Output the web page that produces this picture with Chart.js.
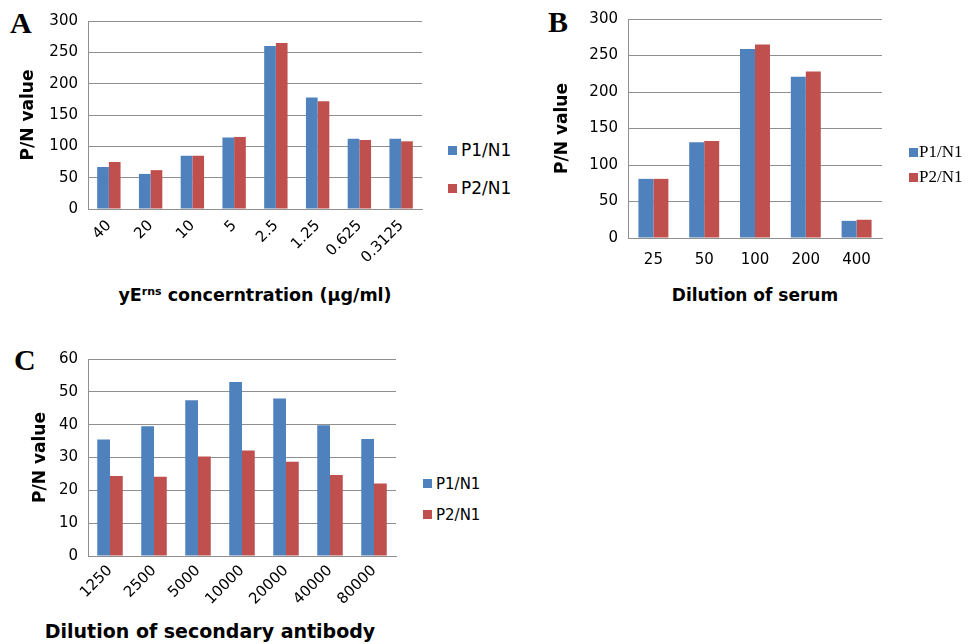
<!DOCTYPE html>
<html>
<head>
<meta charset="utf-8">
<script src="https://cdn.jsdelivr.net/npm/chart.js@4.4.0/dist/chart.umd.min.js"></script>
<style>
  body { margin: 0; background: #fff; width: 968px; height: 644px; position: relative; overflow: hidden; font-family: "DejaVu Sans", sans-serif; color: #000; }
  canvas { position: absolute; }
  .letra { position: absolute; font-family: "Liberation Serif", serif; font-weight: bold; font-size: 30px; line-height: 30px; }
  .xtitulo { position: absolute; font-weight: bold; font-size: 18px; transform: translate(-50%, -50%); white-space: nowrap; }
  .xtitulo sup { font-size: 11px; }
  .leg { position: absolute; white-space: nowrap; transform: translateY(-50%); }
  .leg span { display: inline-block; width: 9px; height: 9px; margin-right: 4px; vertical-align: middle; position: relative; top: -1px; }
</style>
</head>
<body>

<div class="letra" style="left:10px; top:8px;">A</div>
<div class="letra" style="left:548px; top:7px;">B</div>
<div class="letra" style="left:14px; top:345px;">C</div>

<canvas id="graficoA" width="432" height="270" style="left:0px; top:0px;"></canvas>
<canvas id="graficoB" width="428" height="280" style="left:540px; top:0px;"></canvas>
<canvas id="graficoC" width="406" height="270" style="left:0px; top:340px;"></canvas>

<div class="xtitulo" style="left:255px; top:295px; font-size:17.5px;">yE<sup>rns</sup> concerntration (µg/ml)</div>
<div class="xtitulo" style="left:755px; top:295px; font-size:17px;">Dilution of serum</div>
<div class="xtitulo" style="left:210px; top:631px; font-size:19px;">Dilution of secondary antibody</div>

<!-- Legendas -->
<div class="leg" style="left:448px; top:150px; font-size:17px;"><span style="background:#4F81BD"></span>P1/N1</div>
<div class="leg" style="left:448px; top:188px; font-size:17px;"><span style="background:#C0504D"></span>P2/N1</div>
<div class="leg" style="left:909px; top:152px; font-size:17px; font-family:'Liberation Serif', serif;"><span style="background:#4F81BD; margin-right:1px"></span>P1/N1</div>
<div class="leg" style="left:909px; top:177px; font-size:17px; font-family:'Liberation Serif', serif;"><span style="background:#C0504D; margin-right:1px"></span>P2/N1</div>
<div class="leg" style="left:423px; top:484px; font-size:15px;"><span style="background:#4F81BD"></span>P1/N1</div>
<div class="leg" style="left:423px; top:515px; font-size:15px;"><span style="background:#C0504D"></span>P2/N1</div>

<script>
// Dados - Painel A (concentração de yErns)
var labelsA = ["40", "20", "10", "5", "2.5", "1.25", "0.625", "0.3125"];
var p1A = [67, 56, 85, 114, 260, 178, 112, 112];
var p2A = [75, 62, 85, 115, 265, 172, 110, 108];
var ticksA = [0, 50, 100, 150, 200, 250, 300];

// Dados - Painel B (diluição do soro)
var labelsB = ["25", "50", "100", "200", "400"];
var p1B = [81, 131, 259, 221, 23.5];
var p2B = [81, 133, 265, 228, 25];
var ticksB = [0, 50, 100, 150, 200, 250, 300];

// Dados - Painel C (diluição do anticorpo secundário)
var labelsC = ["1250", "2500", "5000", "10000", "20000", "40000", "80000"];
var p1C = [35.5, 39.5, 47.4, 53, 48, 39.8, 35.6];
var p2C = [24.4, 24.1, 30.3, 32.1, 28.7, 24.7, 22.1];
var ticksC = [0, 10, 20, 30, 40, 50, 60];

var corAzul = "#4F81BD";
var corVermelho = "#C0504D";
var corGrade = "#8f8f8f";
var fonte = "DejaVu Sans";

function renderGrafico(id, labels, p1, p2, ticks, cfg) {
  var ctx = document.getElementById(id).getContext("2d");
  return new Chart(ctx, {
    type: "bar",
    data: {
      labels: labels,
      datasets: [
        { label: "P1/N1", data: p1, backgroundColor: corAzul, barPercentage: 1, categoryPercentage: cfg.cat },
        { label: "P2/N1", data: p2, backgroundColor: corVermelho, barPercentage: 1, categoryPercentage: cfg.cat },
      ],
    },
    options: {
      responsive: false,
      animation: false,
      layout: { padding: { top: cfg.top, right: cfg.right, left: 0, bottom: 0 } },
      plugins: { legend: { display: false }, tooltip: { enabled: false } },
      scales: {
        x: {
          grid: { display: false, drawTicks: false },
          border: { display: true, color: corGrade },
          ticks: {
            color: "#000",
            font: { family: fonte, size: 15 },
            minRotation: cfg.rot,
            maxRotation: cfg.rot,
            padding: cfg.xpad,
            autoSkip: false,
          },
          afterFit: function (escala) {
            escala.height = cfg.xh; // altura fixa do eixo x
          },
        },
        y: {
          min: ticks[0],
          max: ticks[ticks.length - 1],
          afterBuildTicks: function (escala) {
            escala.ticks = ticks.map(function (v) { return { value: v }; });
          },
          ticks: { color: "#000", font: { family: fonte, size: 15 }, padding: 10 },
          grid: { color: corGrade, drawTicks: false },
          border: { display: true, color: corGrade },
          title: {
            display: true,
            text: "P/N value",
            color: "#000",
            font: { family: fonte, size: 17, weight: "bold" },
            padding: { top: cfg.ytp, bottom: 0 },
          },
          afterFit: function (escala) {
            escala.width = 88; // largura fixa do eixo y
          },
        },
      },
    },
  });
}

renderGrafico("graficoA", labelsA, p1A, p2A, ticksA, { cat: 0.56, top: 21, right: 10, rot: 45, xpad: 8, xh: 61, ytp: 18 });
renderGrafico("graficoB", labelsB, p1B, p2B, ticksB, { cat: 0.59, top: 17, right: 86, rot: 0, xpad: 13, xh: 42, ytp: 12 });
renderGrafico("graficoC", labelsC, p1C, p2C, ticksC, { cat: 0.58, top: 12, right: 10, rot: 45, xpad: 6, xh: 54, ytp: 30 });
</script>
</body>
</html>
